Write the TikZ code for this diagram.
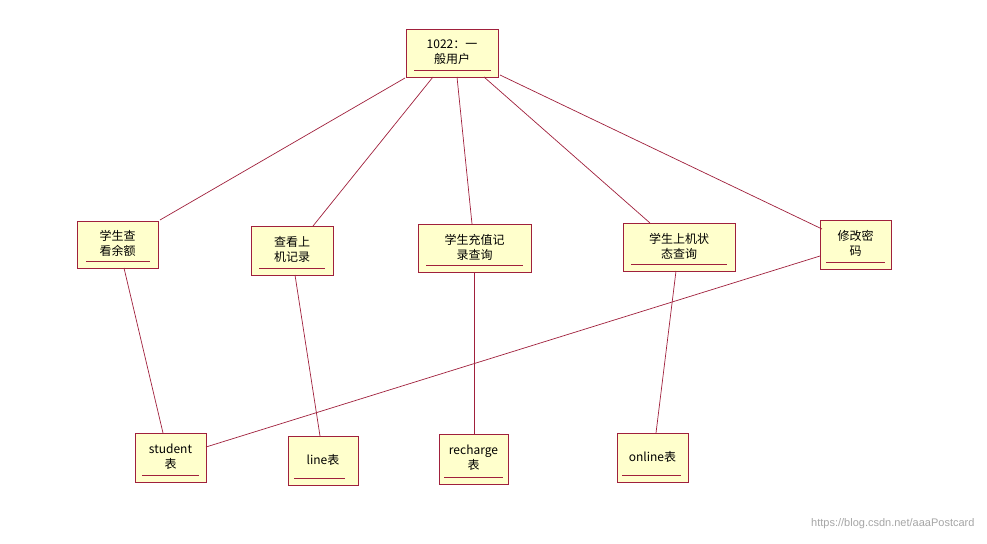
\documentclass[tikz,border=0pt]{standalone}
\usepackage{fontspec}
\setmainfont{Liberation Sans}
\newfontfamily\cjk{Noto Sans CJK SC}
\usetikzlibrary{calc}
\definecolor{bd}{HTML}{A0203C}
\definecolor{fl}{HTML}{FFFFCC}
\tikzset{obj/.style={draw=bd,fill=fl,line width=0.9pt},
 lnk/.style={draw=bd,line width=0.7pt},
 ul/.style={draw=bd,line width=0.9pt},
 txt/.style={font=\cjk\fontsize{12}{15}\selectfont,align=center,inner sep=0pt}}
\newcommand{\objbox}[8]{% name x1 y1 x2 y2 text u1 u2
 \path[obj] (#2,#3) rectangle (#4,#5);
 \node[txt] (#1) at ({(#2+#4)/2},{(#3+#5)/2-1}) {#6};
 \path[ul] (#7,#5-7) -- (#8,#5-7);
 \coordinate (#1nw) at (#2,#3); \coordinate (#1se) at (#4,#5);}
\begin{document}
\begin{tikzpicture}[x=1pt,y=-1pt]
\path[fill=white] (0,0) rectangle (987,543);
\objbox{t}{406}{29}{498}{77}{1022：一\\般用户}{414}{491}
\objbox{a}{77}{221}{158}{268}{学生查\\看余额}{86}{150}
\objbox{b}{251}{226}{333}{275}{查看上\\机记录}{259}{325}
\objbox{c}{418}{224}{531}{272}{学生充值记\\录查询}{426}{523}
\objbox{d}{623}{223}{735}{271}{学生上机状\\态查询}{631}{727}
\objbox{e}{820}{220}{891}{269}{修改密\\码}{826}{885}
\objbox{s}{135}{433}{206}{482}{student\\表}{142}{199}
\objbox{l}{288}{436}{358}{485}{line表}{294}{345}
\objbox{r}{439}{434}{508}{484}{recharge\\表}{444}{503}
\objbox{o}{617}{433}{688}{482}{online表}{622}{681}
\coordinate (p1) at (405,78); \coordinate (q1) at (160,220);
\coordinate (p2) at (433,77); \coordinate (q2) at (313,226);
\coordinate (p3) at (457,77); \coordinate (q3) at (472,224);
\coordinate (p4) at (484,77); \coordinate (q4) at (650,223);
\coordinate (p5) at (500,75); \coordinate (q5) at (822,229);
\coordinate (m1) at (124,268); \coordinate (n1) at (163,433);
\coordinate (m2) at (295,275); \coordinate (n2) at (320,436);
\coordinate (m3) at (474,272); \coordinate (n3) at (474,434);
\coordinate (m4) at (676,271); \coordinate (n4) at (656,433);
\coordinate (m5) at (820,256); \coordinate (n5) at (206,447);
\foreach \i in {1,...,5}{\draw[lnk] (p\i) -- (q\i); \draw[lnk] (m\i) -- (n\i);}
\node[font=\fontsize{11}{13}\selectfont,text=black!35,anchor=east] (wm) at (978,524) {https://blog.csdn.net/aaaPostcard};
\end{tikzpicture}
\end{document}
